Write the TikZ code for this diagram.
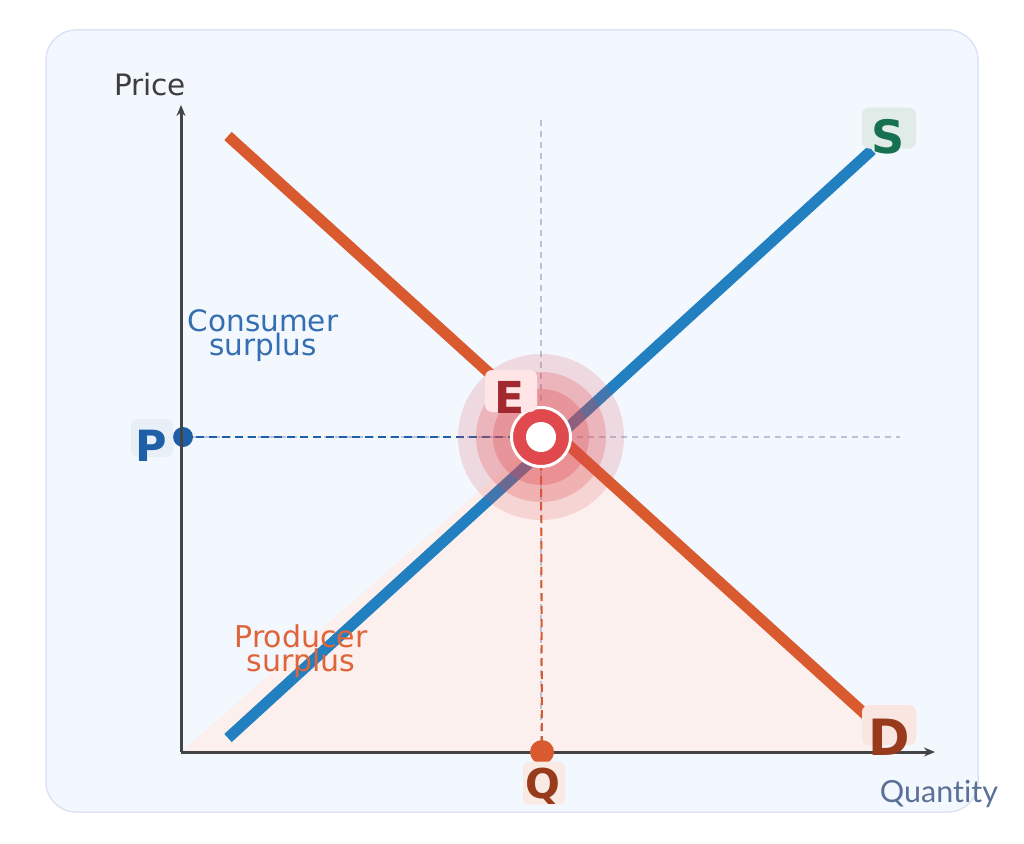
\documentclass[tikz,border=0pt]{standalone}
\usepackage{fontspec}
\setmainfont{DejaVu Sans}
\newfontfamily\latofont[Ligatures=NoCommon]{Lato}
\usetikzlibrary{arrows.meta,calc,positioning}
\definecolor{panelbg}{HTML}{F3F7FE}
\definecolor{panelrim}{HTML}{DDE3F4}
\definecolor{axisgray}{HTML}{444444}
\definecolor{guidegray}{HTML}{BAC2DA}
\definecolor{demandred}{HTML}{D95A2E}
\definecolor{supplyblue}{HTML}{2280C0}
\definecolor{priceblue}{HTML}{1E5FA8}
\definecolor{surplusfill}{HTML}{FBF0EE}
\definecolor{eqred}{HTML}{E04A4E}
\definecolor{eqdark}{HTML}{A0282E}
\definecolor{rustbrown}{HTML}{983A1C}
\definecolor{supgreen}{HTML}{17704F}
\definecolor{prodorange}{HTML}{E0643A}
\definecolor{qtyslate}{HTML}{5A7096}

\begin{document}
\begin{tikzpicture}[x=1pt,y=-1pt,
    tagbox/.style={rounded corners=7pt,inner sep=0pt},
    tagtxt/.style={anchor=base,inner sep=0pt},
    guide/.style={guidegray,line width=1.3pt,dash pattern=on 6pt off 5pt},
    curve/.style={line width=11pt},
    axis/.style={axisgray,line width=3pt,-{Stealth[length=11pt,width=9pt]}}]
    \useasboundingbox (0,0) rectangle (1024,843);
    \fill[panelbg,draw=panelrim,line width=1.5pt,rounded corners=30pt] (46,30) rectangle (978,812);
    % key points
    \coordinate (O) at (181,752);
    \coordinate (E) at (541,437);
    \coordinate (Dtop) at (228,136);
    \coordinate (Dend) at (866,715);
    \coordinate (Sbot) at (228,738);
    \coordinate (Stop) at (872,150);
    \coordinate (Pax) at (183,437);
    \coordinate (Qax) at (542,752);
    % producer surplus area
    \fill[surplusfill] (O) -- (E) -- (560,437) -- (Dend) -- (880,752) -- cycle;
    \draw[guide] (541,120) -- (541,752);
    \draw[guide] (181,437) -- (900,437);
    \draw[priceblue,line width=2pt,dash pattern=on 8pt off 5pt] (Pax) -- (E);
    \draw[demandred,line width=2pt,dash pattern=on 8pt off 5pt] (E) -- (Qax);
    \draw[curve,demandred] (Dtop) -- (Dend);
    \draw[curve,supplyblue] (Sbot) -- (Stop);
    % equilibrium halo
    \fill[eqred,opacity=0.17] (E) circle[radius=83];
    \fill[eqred,opacity=0.25] (E) circle[radius=65];
    \fill[eqred,opacity=0.3] (E) circle[radius=48];
    \filldraw[fill=eqred,draw=white,line width=3pt] (E) circle[radius=29.5];
    \fill[white] (E) circle[radius=15];
    \fill[priceblue] (Pax) circle[radius=10];
    \draw[axis] (O) -- (181,105);
    \draw[axis] (O) -- (935,752);
    \fill[demandred] (Qax) circle[radius=12];
    % tags
    \node[tagbox,fill=red!10!white,minimum width=52pt,minimum height=42pt] (Ebox) at (511,391) {};
    \node[tagtxt,text=eqdark,font=\bfseries\fontsize{44}{44}\selectfont] (Elab) at (510,413) {E};
    \node[tagbox,fill=priceblue!10!white,minimum width=42pt,minimum height=38pt] (Pbox) at (152,438) {};
    \node[tagtxt,text=priceblue,font=\bfseries\fontsize{43}{43}\selectfont] (Plab) at (151,461) {P};
    \node[tagbox,fill=supgreen!13!white,minimum width=54pt,minimum height=41pt] (Sbox) at (889,128) {};
    \node[tagtxt,text=supgreen,font=\bfseries\fontsize{46}{46}\selectfont] (Slab) at (888,153) {S};
    \node[tagbox,fill=demandred!15!white,minimum width=54pt,minimum height=40pt] (Dbox) at (889,725) {};
    \node[tagtxt,text=rustbrown,font=\bfseries\fontsize{50}{50}\selectfont] (Dlab) at (889,755) {D};
    \node[tagbox,fill=demandred!13!white,minimum width=42pt,minimum height=43pt] (Qbox) at (544,783) {};
    \node[tagtxt,text=rustbrown,font=\bfseries\fontsize{41}{41}\selectfont] (Qlab) at (543,798) {Q};
    % axis and area labels
    \node[tagtxt,text=axisgray!90!black,font=\fontsize{29.5}{29.5}\selectfont] (price) at (150,95) {Price};
    \node[tagtxt,text=qtyslate,font=\latofont\fontsize{30.5}{30.5}\selectfont] (qty) at (939,802) {Quantity};
    \node[align=center,inner sep=0pt,text=priceblue!90!white,font=\fontsize{29.5}{20}\selectfont] (cons) at (263,336) {Consumer\\surplus};
    \node[align=center,inner sep=0pt,text=prodorange,font=\fontsize{30}{22}\selectfont] (prod) at (301,651) {Producer\\surplus};
\end{tikzpicture}
\end{document}
